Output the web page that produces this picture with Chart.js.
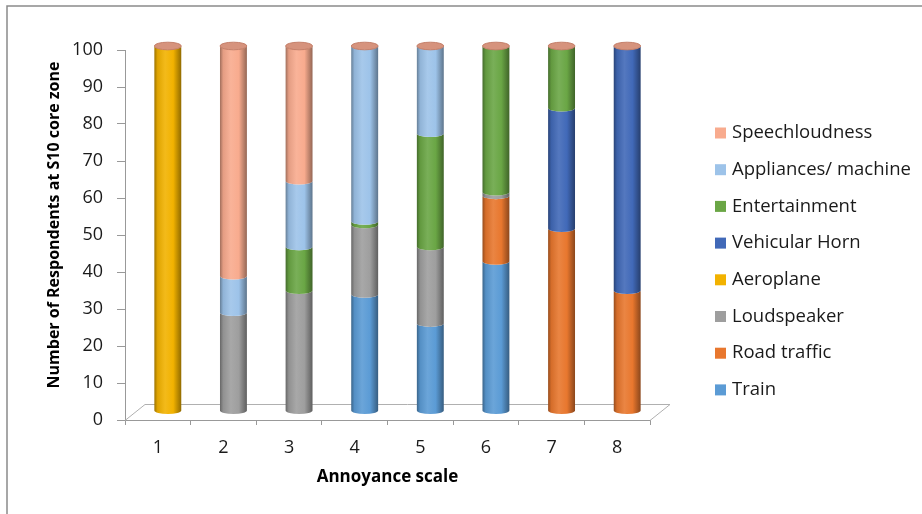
<!DOCTYPE html>
<html>
<head>
<meta charset="utf-8">
<script src="https://cdn.jsdelivr.net/npm/chart.js@4.4.1/dist/chart.umd.min.js"></script>
<style>
  html, body { margin: 0; padding: 0; background: #fff; }
  #wrap { width: 922px; height: 514px; }
</style>
</head>
<body>
<div id="wrap"><canvas id="myChart" width="922" height="514"></canvas></div>
<script>
// annoyance scale categories
const labels = ['1', '2', '3', '4', '5', '6', '7', '8'];

// number of respondents per noise source
const train          = [0, 0, 0, 32, 24, 41, 0, 0];
const roadTraffic    = [0, 0, 0, 0, 0, 18, 50, 33];
const loudspeaker    = [0, 27, 33, 19, 21, 1, 0, 0];
const aeroplane      = [100, 0, 0, 0, 0, 0, 0, 0];
const vehicularHorn  = [0, 0, 0, 0, 0, 0, 33, 67];
const entertainment  = [0, 0, 12, 1, 31, 40, 17, 0];
const appliances     = [0, 10, 18, 48, 24, 0, 0, 0];
const speechloudness = [0, 63, 37, 0, 0, 0, 0, 0];

const seriesNames  = ['Train', 'Road traffic', 'Loudspeaker', 'Aeroplane', 'Vehicular Horn', 'Entertainment', 'Appliances/ machine', 'Speechloudness'];
const seriesValues = [train, roadTraffic, loudspeaker, aeroplane, vehicularHorn, entertainment, appliances, speechloudness];
const seriesColors = ['#5B9BD5', '#E8772E', '#9E9E9E', '#F2B200', '#4169B8', '#6AA645', '#9DC3E9', '#F8AB8E'];

const yTitle = 'Number of Respondents at S10 core zone';
const FONT = "'Open Sans', sans-serif";

function shade(hex, f) {
  let r = parseInt(hex.slice(1, 3), 16), g = parseInt(hex.slice(3, 5), 16), b = parseInt(hex.slice(5, 7), 16);
  const t = f < 0 ? 0 : 255, p = Math.abs(f);
  r = Math.round((t - r) * p + r); g = Math.round((t - g) * p + g); b = Math.round((t - b) * p + b);
  return 'rgb(' + r + ',' + g + ',' + b + ')';
}

// floor, cylinders, legend, y title and frame
const cylinders = {
  id: 'cylinders',
  beforeDatasetsDraw(chart) {
    const { ctx, chartArea: a } = chart;
    ctx.save();
    ctx.strokeStyle = '#b0b0b0';
    ctx.lineWidth = 1;
    ctx.beginPath();
    ctx.moveTo(a.left, a.bottom + 0.5);
    ctx.lineTo(a.left + 20, a.bottom - 15.5);
    ctx.lineTo(a.right + 20, a.bottom - 15.5);
    ctx.lineTo(a.right, a.bottom + 0.5);
    ctx.stroke();
    ctx.restore();
  },
  afterDatasetsDraw(chart) {
    const { ctx, chartArea: a } = chart;
    const dx = 10, k = 365 / 370;
    const ty = (y) => a.bottom - 9 + (y - a.bottom) * k;
    const ry = 3.5;
    const tops = [];
    chart.data.datasets.forEach((ds, di) => {
      const meta = chart.getDatasetMeta(di);
      meta.data.forEach((el, i) => {
        if (!ds.data[i]) return;
        const x = el.x + dx, r = el.width / 2;
        const top = ty(el.y), bot = ty(el.base);
        const c = seriesColors[di];
        const g = ctx.createLinearGradient(x - r, 0, x + r, 0);
        g.addColorStop(0, shade(c, -0.35));
        g.addColorStop(0.12, shade(c, -0.08));
        g.addColorStop(0.4, shade(c, 0.1));
        g.addColorStop(0.7, c);
        g.addColorStop(1, shade(c, -0.4));
        ctx.save();
        ctx.fillStyle = g;
        ctx.beginPath();
        ctx.moveTo(x - r, top);
        ctx.lineTo(x - r, bot);
        ctx.ellipse(x, bot, r, ry, 0, Math.PI, 0, true);
        ctx.lineTo(x + r, top);
        ctx.ellipse(x, top, r, ry, 0, 0, Math.PI, false);
        ctx.closePath();
        ctx.fill();
        ctx.restore();
        if (!tops[i] || top < tops[i].y) tops[i] = { x: x, y: top, r: r };
      });
    });
    tops.forEach((t) => {
      if (!t) return;
      ctx.save();
      ctx.fillStyle = '#D6937D';
      ctx.strokeStyle = '#C47F69';
      ctx.beginPath();
      ctx.ellipse(t.x, t.y, t.r, 3.8, 0, 0, Math.PI * 2);
      ctx.fill();
      ctx.stroke();
      ctx.restore();
    });
  },
  afterDraw(chart) {
    const { ctx } = chart;
    ctx.save();
    // chart frame
    ctx.strokeStyle = '#8a8a8a';
    ctx.lineWidth = 1.5;
    ctx.beginPath();
    ctx.moveTo(7, 514);
    ctx.lineTo(7, 6);
    ctx.lineTo(922, 6);
    ctx.stroke();
    // y axis title
    ctx.save();
    ctx.translate(54, 225);
    ctx.rotate(-Math.PI / 2);
    ctx.font = 'bold 16px ' + FONT;
    ctx.fillStyle = '#000';
    ctx.textAlign = 'center';
    ctx.textBaseline = 'middle';
    ctx.fillText(yTitle, 0, 0);
    ctx.restore();
    // legend, reversed order
    ctx.font = '18.5px ' + FONT;
    ctx.textBaseline = 'middle';
    ctx.textAlign = 'left';
    for (let k = 0; k < seriesNames.length; k++) {
      const di = seriesNames.length - 1 - k;
      const y = 133 + k * 36.7;
      ctx.fillStyle = seriesColors[di];
      ctx.fillRect(715, y - 5.5, 11, 11);
      ctx.fillStyle = '#1a1a1a';
      ctx.fillText(seriesNames[di], 732, y);
    }
    ctx.restore();
  }
};

const ctx = document.getElementById('myChart').getContext('2d');
new Chart(ctx, {
  type: 'bar',
  data: {
    labels: labels,
    datasets: seriesNames.map((name, i) => ({
      label: name,
      data: seriesValues[i],
      backgroundColor: 'rgba(0,0,0,0)',
      borderWidth: 0,
      barPercentage: 0.41,
      categoryPercentage: 1
    }))
  },
  options: {
    responsive: false,
    animation: false,
    devicePixelRatio: 1,
    layout: { padding: { top: 50, right: 272, left: 0, bottom: 0 } },
    plugins: { legend: { display: false }, tooltip: { enabled: false } },
    scales: {
      x: {
        stacked: true,
        afterFit: (s) => { s.height = 94; },
        grid: { drawOnChartArea: false, tickLength: 5, color: '#999', offset: true },
        border: { color: '#999' },
        ticks: { font: { family: FONT, size: 18 }, color: '#1a1a1a', padding: 12 },
        title: { display: true, text: 'Annoyance scale', font: { family: FONT, size: 17, weight: 'bold' }, color: '#000', padding: { top: 0, bottom: 27 } }
      },
      y: {
        stacked: true,
        min: 0,
        max: 100,
        afterFit: (s) => { s.width = 125; },
        grid: { drawOnChartArea: false, tickLength: 8, color: '#999' },
        border: { color: '#999' },
        ticks: { stepSize: 10, font: { family: FONT, size: 18 }, color: '#1a1a1a', padding: 14 },
        title: { display: false }
      }
    }
  },
  plugins: [cylinders]
});
</script>
</body>
</html>
